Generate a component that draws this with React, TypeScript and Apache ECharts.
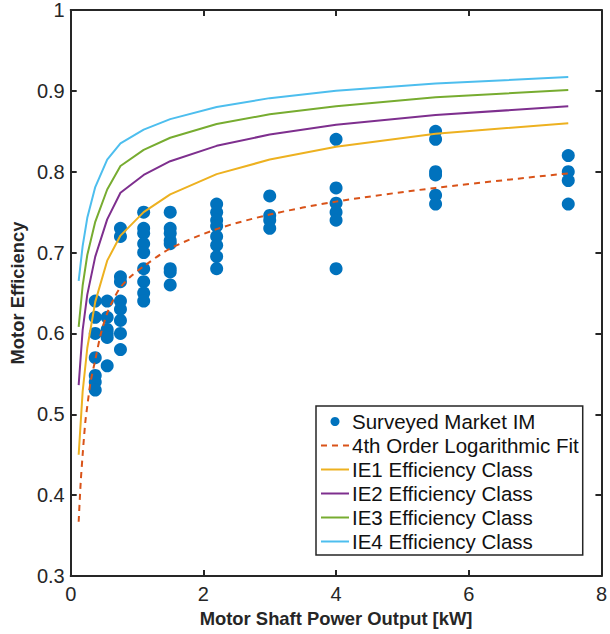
import React, { useEffect, useRef } from "react";
import * as echarts from "echarts";

// Rated output power (kW) of the IEC classes
const ratedPower = [0.12, 0.18, 0.25, 0.37, 0.55, 0.75, 1.1, 1.5, 2.2, 3, 4, 5.5, 7.5];
const ie1 = [0.45, 0.528, 0.582, 0.639, 0.69, 0.721, 0.75, 0.772, 0.797, 0.815, 0.831, 0.847, 0.86];
const ie2 = [0.536, 0.604, 0.648, 0.695, 0.741, 0.774, 0.796, 0.813, 0.832, 0.846, 0.858, 0.87, 0.881];
const ie3 = [0.608, 0.659, 0.697, 0.738, 0.778, 0.807, 0.827, 0.842, 0.859, 0.871, 0.881, 0.892, 0.901];
const ie4 = [0.665, 0.708, 0.743, 0.781, 0.815, 0.835, 0.852, 0.865, 0.88, 0.891, 0.9, 0.909, 0.917];

// Logarithmic fit curve
const fitPower = [0.12, 0.15, 0.18, 0.22, 0.25, 0.3, 0.37, 0.45, 0.55, 0.65, 0.75, 0.9, 1.1, 1.5, 2.2, 3, 4, 5.5, 7.5];
const fitEff = [0.367, 0.415, 0.45, 0.49, 0.51, 0.54, 0.567, 0.598, 0.625, 0.643, 0.657, 0.67, 0.683, 0.705, 0.729, 0.747, 0.763, 0.78, 0.798];

// Surveyed market induction motors
const surveyPower = [
  0.37, 0.37, 0.37, 0.37, 0.37, 0.37, 0.37,
  0.55, 0.55, 0.55, 0.55, 0.55, 0.55,
  0.75, 0.75, 0.75, 0.75, 0.75, 0.75, 0.75, 0.75, 0.75,
  1.1, 1.1, 1.1, 1.1, 1.1, 1.1, 1.1, 1.1, 1.1,
  1.5, 1.5, 1.5, 1.5, 1.5, 1.5, 1.5, 1.5,
  2.2, 2.2, 2.2, 2.2, 2.2, 2.2, 2.2, 2.2,
  3, 3, 3, 3,
  4, 4, 4, 4, 4, 4,
  5.5, 5.5, 5.5, 5.5, 5.5, 5.5,
  7.5, 7.5, 7.5, 7.5,
];
const surveyEff = [
  0.64, 0.62, 0.6, 0.57, 0.548, 0.54, 0.53,
  0.64, 0.62, 0.605, 0.6, 0.595, 0.56,
  0.73, 0.72, 0.67, 0.664, 0.64, 0.63, 0.616, 0.6, 0.58,
  0.75, 0.73, 0.724, 0.711, 0.7, 0.68, 0.664, 0.65, 0.64,
  0.75, 0.73, 0.724, 0.715, 0.711, 0.68, 0.676, 0.66,
  0.76, 0.75, 0.74, 0.733, 0.72, 0.709, 0.695, 0.68,
  0.77, 0.746, 0.74, 0.73,
  0.84, 0.78, 0.761, 0.75, 0.74, 0.68,
  0.85, 0.84, 0.8, 0.796, 0.771, 0.76,
  0.82, 0.8, 0.789, 0.76,
];

const seriesNames = [
  "Surveyed Market IM",
  "4th Order Logarithmic Fit",
  "IE1 Efficiency Class",
  "IE2 Efficiency Class",
  "IE3 Efficiency Class",
  "IE4 Efficiency Class",
];

const FONT = "Liberation Sans, Arial, Helvetica, sans-serif";
const AXIS = "#262626";

export default function App() {
  const ref = useRef<HTMLDivElement>(null);
  useEffect(() => {
    if (!ref.current) return;
    const chart = echarts.init(ref.current, undefined, { renderer: "svg" });
    const pair = (xs: number[], ys: number[]) => xs.map((x, i) => [x, ys[i]]);
    const lineSeries = (name: string, data: number[][], color: string, dashed = false) => ({
      name,
      type: "line",
      data,
      showSymbol: false,
      symbol: "none",
      smooth: dashed ? 0.3 : false,
      lineStyle: { color, width: 2, type: dashed ? [6, 5] : "solid" },
      itemStyle: { color },
      z: 3,
    });
    const xBase = {
      type: "value",
      min: 0,
      max: 8,
      interval: 2,
      splitLine: { show: false },
      axisLine: { show: true, onZero: false, lineStyle: { color: AXIS, width: 2 } },
      axisTick: { show: true, inside: true, length: 6, lineStyle: { color: AXIS, width: 2 } },
    };
    const yBase = {
      type: "value",
      min: 0.3,
      max: 1,
      interval: 0.1,
      splitLine: { show: false },
      axisLine: { show: true, onZero: false, lineStyle: { color: AXIS, width: 2 } },
      axisTick: { show: true, inside: true, length: 6, lineStyle: { color: AXIS, width: 2 } },
    };
    const legendData = seriesNames.map((name, i) =>
      i === 0
        ? { name }
        : { name, itemStyle: { opacity: 0, color: "transparent", borderWidth: 0 } }
    );
    chart.setOption({
      animation: false,
      backgroundColor: "#ffffff",
      textStyle: { fontFamily: FONT },
      grid: { left: 67, right: 6, top: 10, bottom: 58, containLabel: false },
      xAxis: [
        {
          ...xBase,
          position: "bottom",
          name: "Motor Shaft Power Output [kW]",
          nameLocation: "middle",
          nameGap: 33,
          nameTextStyle: { fontSize: 18.4, fontWeight: "bold", color: AXIS, fontFamily: FONT },
          axisLabel: { fontSize: 20, color: AXIS, margin: 8, fontFamily: FONT },
        },
        { ...xBase, position: "top", axisLabel: { show: false } },
      ],
      yAxis: [
        {
          ...yBase,
          position: "left",
          name: "Motor Efficiency",
          nameLocation: "middle",
          nameGap: 34,
          nameTextStyle: { fontSize: 18.4, fontWeight: "bold", color: AXIS, fontFamily: FONT },
          axisLabel: {
            fontSize: 20,
            color: AXIS,
            margin: 6,
            fontFamily: FONT,
            formatter: (v: number) => String(+v.toFixed(1)),
          },
        },
        { ...yBase, position: "right", axisLabel: { show: false } },
      ],
      legend: {
        data: legendData,
        orient: "vertical",
        left: 316,
        top: 406,
        padding: [5, 4, 3, 4],
        itemWidth: 28,
        itemHeight: 9,
        itemGap: 3,
        borderColor: AXIS,
        borderWidth: 1.5,
        borderRadius: 0,
        backgroundColor: "#ffffff",
        textStyle: { fontSize: 20.5, color: "#111111", fontFamily: FONT, lineHeight: 20, padding: [0, 0, 0, -2] },
      },
      series: [
        {
          name: seriesNames[0],
          type: "scatter",
          data: pair(surveyPower, surveyEff),
          symbol: "circle",
          symbolSize: 13,
          itemStyle: { color: "#0072BD", opacity: 1 },
          z: 2,
        },
        lineSeries(seriesNames[1], pair(fitPower, fitEff), "#D95319", true),
        lineSeries(seriesNames[2], pair(ratedPower, ie1), "#EDB120"),
        lineSeries(seriesNames[3], pair(ratedPower, ie2), "#7E2F8E"),
        lineSeries(seriesNames[4], pair(ratedPower, ie3), "#77AC30"),
        lineSeries(seriesNames[5], pair(ratedPower, ie4), "#4DBEEE"),
      ],
    });
    return () => chart.dispose();
  }, []);
  return <div ref={ref} style={{ width: 610, height: 634, position: "absolute", left: 0, top: 0 }} />;
}
